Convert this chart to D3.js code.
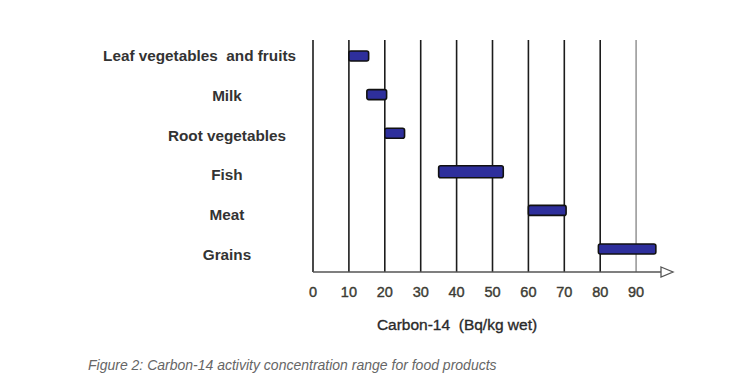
<!DOCTYPE html>
<html lang="en">
<head>
  <meta charset="UTF-8" />
  <title>Carbon-14 activity concentration range</title>
  <script src="https://d3js.org/d3.v7.min.js"></script>
  <style>
    body { margin: 0; background: #fff; }
    text { font-family: "Liberation Sans", Arial, sans-serif; }
  </style>
</head>
<body>
  <svg id="chart" width="739" height="386"></svg>
  <script>
    // data
    const foods = ["Leaf vegetables  and fruits", "Milk", "Root vegetables", "Fish", "Meat", "Grains"];
    const lowValues = [10, 15, 20, 35, 60, 79.5];
    const highValues = [15.5, 20.5, 25.5, 53, 70.5, 95.5];
    const tickValues = [0, 10, 20, 30, 40, 50, 60, 70, 80, 90];
    const xTitle = "Carbon-14  (Bq/kg wet)";
    const caption = "Figure 2: Carbon-14 activity concentration range for food products";

    const svg = d3.select("svg#chart");
    const margin = { top: 40, left: 313, right: 66, bottom: 114 };
    const width = +svg.attr("width");
    const height = +svg.attr("height");
    const axisY = height - margin.bottom;

    const x = d3.scaleLinear().domain([0, 100]).range([margin.left, margin.left + 359]);

    // bar rows and label rows are spaced slightly differently
    const yBar = d3.scalePoint().domain(foods).range([56, 249]);
    const yLabel = d3.scalePoint().domain(foods).range([56, 255]);

    // vertical gridlines
    svg.append("g")
      .selectAll("line")
      .data(tickValues)
      .join("line")
      .attr("x1", d => x(d))
      .attr("x2", d => x(d))
      .attr("y1", margin.top)
      .attr("y2", axisY)
      .attr("stroke", d => d === 90 ? "#9a9a9a" : "#1c1c1c")
      .attr("stroke-width", 1.6);

    // x axis line + open arrow
    svg.append("line")
      .attr("x1", x(0)).attr("x2", 661)
      .attr("y1", axisY).attr("y2", axisY)
      .attr("stroke", "#555").attr("stroke-width", 1.3);
    svg.append("path")
      .attr("d", `M661,${axisY - 5}L673,${axisY}L661,${axisY + 5}Z`)
      .attr("fill", "#fff").attr("stroke", "#555").attr("stroke-width", 1.3);

    // tick labels
    svg.append("g")
      .selectAll("text")
      .data(tickValues)
      .join("text")
      .attr("x", d => x(d))
      .attr("y", axisY + 25)
      .attr("text-anchor", "middle")
      .attr("font-size", 14.5)
      .attr("fill", "#3c3c34")
      .attr("stroke", "#3c3c34")
      .attr("stroke-width", 0.4)
      .text(d => d);

    svg.append("text")
      .attr("x", 457)
      .attr("y", axisY + 58)
      .attr("text-anchor", "middle")
      .attr("font-size", 15.5)
      .attr("fill", "#2a2a2a")
      .attr("stroke", "#2a2a2a")
      .attr("stroke-width", 0.35)
      .style("white-space", "pre")
      .text(xTitle);

    // bars
    svg.append("g")
      .selectAll("rect")
      .data(foods)
      .join("rect")
      .attr("x", (d, i) => x(lowValues[i]))
      .attr("width", (d, i) => x(highValues[i]) - x(lowValues[i]))
      .attr("y", (d, i) => yBar(d) - (i === 3 ? 6 : 5))
      .attr("height", (d, i) => i === 3 ? 12 : 10)
      .attr("rx", 2)
      .attr("fill", "#2e2f9c")
      .attr("stroke", "#111")
      .attr("stroke-width", 1.6);

    // category labels, centred on a column but kept clear of the axis
    const labelCenter = 227;
    const labelRight = 296;
    svg.append("g")
      .selectAll("text")
      .data(foods)
      .join("text")
      .attr("y", d => yLabel(d) + 5)
      .attr("text-anchor", "middle")
      .attr("font-size", 15.3)
      .attr("font-weight", "bold")
      .attr("fill", "#333")
      .style("white-space", "pre")
      .text(d => d)
      .attr("x", function () {
        const w = this.getComputedTextLength();
        return Math.min(labelCenter, labelRight - w / 2);
      });

    // caption
    svg.append("text")
      .attr("x", 88)
      .attr("y", 370)
      .attr("font-size", 14)
      .attr("font-style", "italic")
      .attr("fill", "#666")
      .text(caption);
  </script>
</body>
</html>
